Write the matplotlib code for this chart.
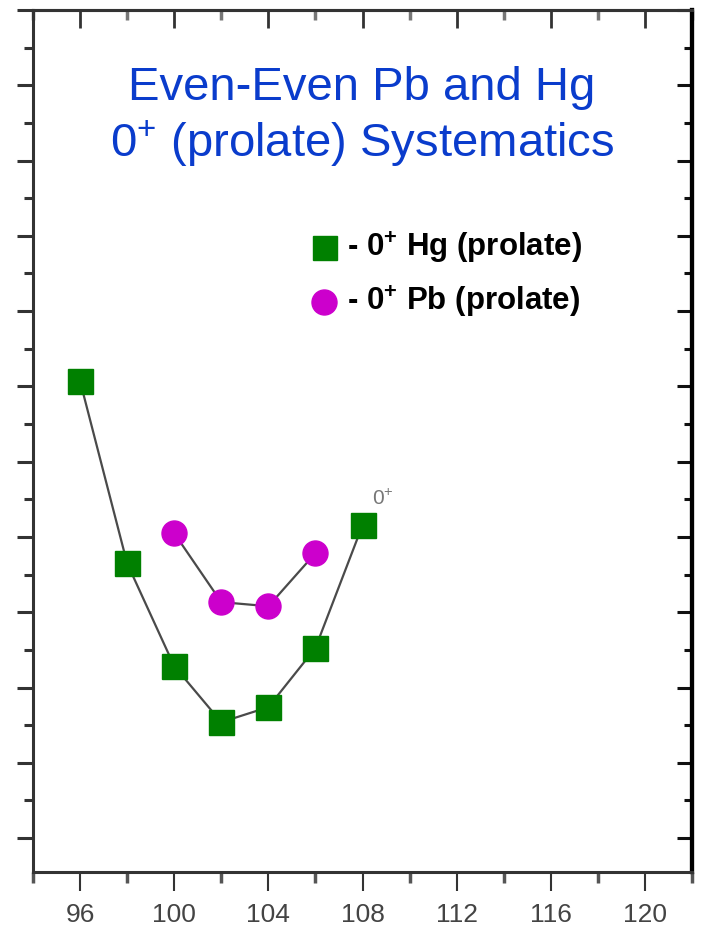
import matplotlib
matplotlib.use("Agg")
import matplotlib.pyplot as plt
from matplotlib.ticker import MultipleLocator

plt.rcParams['font.family'] = ['Liberation Sans', 'DejaVu Sans']
plt.rcParams['mathtext.fontset'] = 'custom'
plt.rcParams['mathtext.rm'] = 'Liberation Sans'
plt.rcParams['mathtext.bf'] = 'Liberation Sans:bold'
plt.rcParams['mathtext.default'] = 'regular'

# Data (neutron number N, excitation energy in keV of prolate 0+ state)
hg_n = [96, 98, 100, 102, 104, 106, 108]
hg_e = [1214, 730, 457, 308, 348, 505, 831]
pb_n = [100, 102, 104, 106]
pb_e = [810, 627, 616, 757]
x_ticks = [96, 100, 104, 108, 112, 116, 120]

title_lines = ["Even-Even Pb and Hg", "0$^{+}$ (prolate) Systematics"]
legend_labels = ["- 0$^{+}$ Hg (prolate)", "- 0$^{+}$ Pb (prolate)"]

GREEN = '#008000'
MAGENTA = '#cc00cc'
BLUE = '#0a3ccc'

fig = plt.figure(figsize=(7.01, 9.33), dpi=100)
ax = fig.add_axes([33/701, 61/933, 659/701, 862/933])
ax.set_xlim(94, 122)
ax.set_ylim(-90, 2200)

# lines
ax.plot(hg_n, hg_e, color='#4a4a4a', lw=1.6, zorder=2)
ax.plot(pb_n, pb_e, color='#4a4a4a', lw=1.6, zorder=2)
# markers
ax.plot(hg_n, hg_e, ls='none', marker='s', ms=18, mfc=GREEN, mec=GREEN, zorder=3)
ax.plot(pb_n, pb_e, ls='none', marker='o', ms=18, mfc=MAGENTA, mec=MAGENTA, zorder=3)

ax.annotate("0$^{+}$", xy=(hg_n[-1], hg_e[-1]), xytext=(9, 20),
            textcoords='offset pixels', fontsize=15, color='#777777',
            ha='left', va='baseline')

# ticks
ax.xaxis.set_major_locator(MultipleLocator(4))
ax.xaxis.set_minor_locator(MultipleLocator(2))
ax.set_xticks(x_ticks)
ax.yaxis.set_major_locator(MultipleLocator(200))
ax.yaxis.set_minor_locator(MultipleLocator(100))
ax.set_yticklabels([])
ax.tick_params(axis='x', which='major', direction='out', length=14, width=1.5,
               color='#333333', labelsize=19, labelcolor='#444444', pad=8)
ax.tick_params(axis='x', which='minor', direction='out', length=8, width=2.5, color='#555555')
ax.tick_params(axis='y', which='major', direction='out', length=11.5, width=2.2, color='#333333')
ax.tick_params(axis='y', which='minor', direction='out', length=6.5, width=2.2, color='#333333')

for side, lw, c in [('left', 2.2, '#333333'), ('bottom', 2.2, '#333333'),
                    ('top', 2.2, '#333333'), ('right', 3.0, '#000000')]:
    ax.spines[side].set_linewidth(lw)
    ax.spines[side].set_color(c)

top = ax.secondary_xaxis('top')
top.xaxis.set_major_locator(MultipleLocator(4))
top.xaxis.set_minor_locator(MultipleLocator(2))
top.set_xticks(x_ticks)
top.set_xticklabels([])
top.tick_params(which='major', direction='in', length=13, width=2.0, color='#333333')
top.tick_params(which='minor', direction='in', length=7, width=2.5, color='#777777')
top.spines['top'].set_linewidth(2.2)
top.spines['top'].set_color('#333333')

right = ax.secondary_yaxis('right')
right.yaxis.set_major_locator(MultipleLocator(200))
right.yaxis.set_minor_locator(MultipleLocator(100))
right.set_yticklabels([])
right.tick_params(which='major', direction='in', length=11, width=2.2, color='#111111')
right.tick_params(which='minor', direction='in', length=6, width=2.2, color='#111111')
right.spines['right'].set_linewidth(3.0)
right.spines['right'].set_color('#000000')

# title
fig.text(362/701, 1 - 100/933, title_lines[0], ha='center', va='baseline',
         fontsize=34, color=BLUE)
fig.text(362/701, 1 - 157/933, title_lines[1], ha='center', va='baseline',
         fontsize=34, color=BLUE)

# legend (manual)
ax.plot([(325-33)/659], [(872-248)/862], transform=ax.transAxes, ls='none',
        marker='s', ms=17, mfc=GREEN, mec=GREEN, clip_on=False)
ax.plot([(324-33)/659], [(872-302)/862], transform=ax.transAxes, ls='none',
        marker='o', ms=18, mfc=MAGENTA, mec=MAGENTA, clip_on=False)
ax.text((347-33)/659, (872-248)/862, legend_labels[0], transform=ax.transAxes,
        ha='left', va='center', fontsize=22.5, fontweight='bold', color='black')
ax.text((347-33)/659, (872-302)/862, legend_labels[1], transform=ax.transAxes,
        ha='left', va='center', fontsize=22.5, fontweight='bold', color='black')

fig.savefig("out.png", dpi=100, facecolor='white')
